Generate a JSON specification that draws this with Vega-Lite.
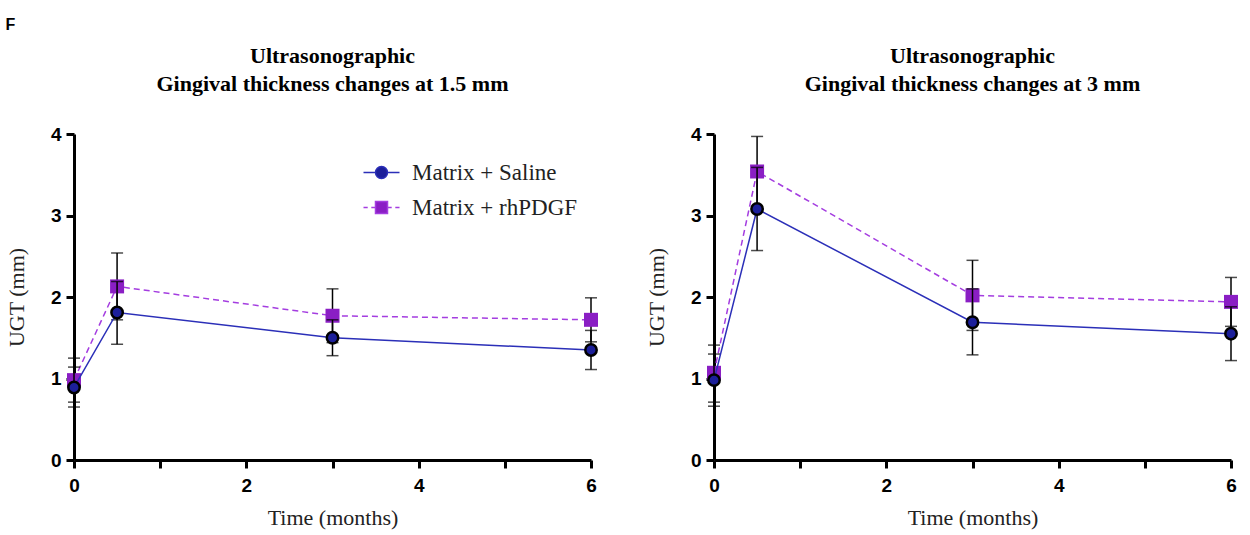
{
  "$schema": "https://vega.github.io/schema/vega-lite/v6.json",
  "padding": {"left": 5, "top": 17, "right": 5, "bottom": 2},
  "background": "white",
  "title": {"text": "F", "anchor": "start", "font": "Liberation Sans", "fontSize": 16, "fontWeight": "bold", "color": "black", "offset": 12},
  "datasets": {
    "p15": [
      {"t": 0, "group": "Matrix + Saline", "ugt": 0.89, "lo": 0.65, "hi": 1.14},
      {"t": 0.5, "group": "Matrix + Saline", "ugt": 1.81, "lo": 1.42, "hi": 2.19},
      {"t": 3, "group": "Matrix + Saline", "ugt": 1.50, "lo": 1.28, "hi": 1.72},
      {"t": 6, "group": "Matrix + Saline", "ugt": 1.35, "lo": 1.11, "hi": 1.59},
      {"t": 0, "group": "Matrix + rhPDGF", "ugt": 0.98, "lo": 0.71, "hi": 1.25},
      {"t": 0.5, "group": "Matrix + rhPDGF", "ugt": 2.13, "lo": 1.72, "hi": 2.54},
      {"t": 3, "group": "Matrix + rhPDGF", "ugt": 1.77, "lo": 1.44, "hi": 2.10},
      {"t": 6, "group": "Matrix + rhPDGF", "ugt": 1.72, "lo": 1.45, "hi": 1.99}
    ],
    "p3": [
      {"t": 0, "group": "Matrix + Saline", "ugt": 0.98, "lo": 0.66, "hi": 1.30},
      {"t": 0.5, "group": "Matrix + Saline", "ugt": 3.08, "lo": 2.57, "hi": 3.59},
      {"t": 3, "group": "Matrix + Saline", "ugt": 1.69, "lo": 1.29, "hi": 2.10},
      {"t": 6, "group": "Matrix + Saline", "ugt": 1.55, "lo": 1.22, "hi": 1.88},
      {"t": 0, "group": "Matrix + rhPDGF", "ugt": 1.07, "lo": 0.71, "hi": 1.41},
      {"t": 0.5, "group": "Matrix + rhPDGF", "ugt": 3.54, "lo": 3.11, "hi": 3.97},
      {"t": 3, "group": "Matrix + rhPDGF", "ugt": 2.02, "lo": 1.59, "hi": 2.45},
      {"t": 6, "group": "Matrix + rhPDGF", "ugt": 1.94, "lo": 1.64, "hi": 2.24}
    ]
  },
  "spacing": 43,
  "hconcat": [
    {
      "width": 517, "height": 326,
      "data": {"name": "p15"},
      "title": {"text": ["Ultrasonographic", "Gingival thickness changes at 1.5 mm"]},
      "encoding": {
        "x": {"field": "t", "type": "quantitative", "scale": {"domain": [0, 6], "nice": false}, "axis": {"title": "Time (months)", "values": [0, 1, 2, 3, 4, 5, 6], "labelExpr": "datum.value % 2 === 0 ? datum.label : ''"}},
        "y": {"field": "ugt", "type": "quantitative", "scale": {"domain": [0, 4], "nice": false}, "axis": {"title": "UGT (mm)", "values": [0, 1, 2, 3, 4]}}
      },
      "layer": [
        {"transform": [{"filter": "datum.group === 'Matrix + rhPDGF'"}], "mark": {"type": "errorbar", "color": "black", "thickness": 1.5, "ticks": {"size": 12}}, "encoding": {"y": {"field": "lo", "type": "quantitative", "title": "UGT (mm)"}, "y2": {"field": "hi"}}},
        {"transform": [{"filter": "datum.group === 'Matrix + rhPDGF'"}], "mark": {"type": "line", "strokeWidth": 1.5, "strokeDash": [6, 4]}, "encoding": {"color": {"field": "group", "type": "nominal", "scale": {"domain": ["Matrix + Saline", "Matrix + rhPDGF"], "range": ["#2b2fb8", "#a43de0"]}, "legend": {"orient": "none", "legendX": 296, "legendY": 27, "title": null, "symbolSize": 144, "labelFont": "Liberation Serif", "labelFontSize": 23, "labelColor": "#222", "labelOffset": 19, "labelLimit": 300, "rowPadding": 11, "padding": 0, "encode": {"symbols": {"update": {"shape": {"signal": "datum.value === 'Matrix + Saline' ? 'M-3,0H-1M1,0H3M1,0A1,1 0 1,1 -1,0A1,1 0 1,1 1,0Z' : 'M-3,0H-2.3M-1.7,0H-1M1,0H1.7M2.3,0H3M-1,-1H1V1H-1Z'"}, "fill": {"signal": "datum.value === 'Matrix + Saline' ? '#1c1f9a' : '#8a1ec4'"}, "stroke": {"signal": "datum.value === 'Matrix + Saline' ? '#2b2fb8' : '#a43de0'"}, "strokeWidth": {"value": 1.5}, "strokeDash": {"value": []}, "opacity": {"value": 1}, "size": {"value": 144}}}}}}}},
        {"transform": [{"filter": "datum.group === 'Matrix + rhPDGF'"}], "mark": {"type": "point", "shape": "square", "filled": true, "size": 196, "color": "#8a1ec4", "opacity": 1}},
        {"transform": [{"filter": "datum.group === 'Matrix + Saline'"}], "mark": {"type": "errorbar", "color": "black", "thickness": 1.5, "ticks": {"size": 12}}, "encoding": {"y": {"field": "lo", "type": "quantitative", "title": "UGT (mm)"}, "y2": {"field": "hi"}}},
        {"transform": [{"filter": "datum.group === 'Matrix + Saline'"}], "mark": {"type": "line", "strokeWidth": 1.5}, "encoding": {"color": {"field": "group", "type": "nominal", "scale": {"domain": ["Matrix + Saline", "Matrix + rhPDGF"], "range": ["#2b2fb8", "#a43de0"]}}}},
        {"transform": [{"filter": "datum.group === 'Matrix + Saline'"}], "mark": {"type": "point", "shape": "circle", "filled": true, "size": 130, "fill": "#1c1f9a", "stroke": "black", "strokeWidth": 2.5, "opacity": 1}}
      ]
    },
    {
      "width": 517, "height": 326,
      "data": {"name": "p3"},
      "title": {"text": ["Ultrasonographic", "Gingival thickness changes at 3 mm"]},
      "encoding": {
        "x": {"field": "t", "type": "quantitative", "scale": {"domain": [0, 6], "nice": false}, "axis": {"title": "Time (months)", "values": [0, 1, 2, 3, 4, 5, 6], "labelExpr": "datum.value % 2 === 0 ? datum.label : ''"}},
        "y": {"field": "ugt", "type": "quantitative", "scale": {"domain": [0, 4], "nice": false}, "axis": {"title": "UGT (mm)", "values": [0, 1, 2, 3, 4]}}
      },
      "layer": [
        {"transform": [{"filter": "datum.group === 'Matrix + rhPDGF'"}], "mark": {"type": "errorbar", "color": "black", "thickness": 1.5, "ticks": {"size": 12}}, "encoding": {"y": {"field": "lo", "type": "quantitative", "title": "UGT (mm)"}, "y2": {"field": "hi"}}},
        {"transform": [{"filter": "datum.group === 'Matrix + rhPDGF'"}], "mark": {"type": "line", "strokeWidth": 1.5, "strokeDash": [6, 4]}, "encoding": {"color": {"field": "group", "type": "nominal", "scale": {"domain": ["Matrix + Saline", "Matrix + rhPDGF"], "range": ["#2b2fb8", "#a43de0"]}, "legend": {"orient": "none", "legendX": 296, "legendY": 27, "title": null, "symbolSize": 144, "labelFont": "Liberation Serif", "labelFontSize": 23, "labelColor": "#222", "labelOffset": 19, "labelLimit": 300, "rowPadding": 11, "padding": 0, "encode": {"symbols": {"update": {"shape": {"signal": "datum.value === 'Matrix + Saline' ? 'M-3,0H-1M1,0H3M1,0A1,1 0 1,1 -1,0A1,1 0 1,1 1,0Z' : 'M-3,0H-2.3M-1.7,0H-1M1,0H1.7M2.3,0H3M-1,-1H1V1H-1Z'"}, "fill": {"signal": "datum.value === 'Matrix + Saline' ? '#1c1f9a' : '#8a1ec4'"}, "stroke": {"signal": "datum.value === 'Matrix + Saline' ? '#2b2fb8' : '#a43de0'"}, "strokeWidth": {"value": 1.5}, "strokeDash": {"value": []}, "opacity": {"value": 1}, "size": {"value": 144}}}}}}}},
        {"transform": [{"filter": "datum.group === 'Matrix + rhPDGF'"}], "mark": {"type": "point", "shape": "square", "filled": true, "size": 196, "color": "#8a1ec4", "opacity": 1}},
        {"transform": [{"filter": "datum.group === 'Matrix + Saline'"}], "mark": {"type": "errorbar", "color": "black", "thickness": 1.5, "ticks": {"size": 12}}, "encoding": {"y": {"field": "lo", "type": "quantitative", "title": "UGT (mm)"}, "y2": {"field": "hi"}}},
        {"transform": [{"filter": "datum.group === 'Matrix + Saline'"}], "mark": {"type": "line", "strokeWidth": 1.5}, "encoding": {"color": {"field": "group", "type": "nominal", "scale": {"domain": ["Matrix + Saline", "Matrix + rhPDGF"], "range": ["#2b2fb8", "#a43de0"]}}}},
        {"transform": [{"filter": "datum.group === 'Matrix + Saline'"}], "mark": {"type": "point", "shape": "circle", "filled": true, "size": 130, "fill": "#1c1f9a", "stroke": "black", "strokeWidth": 2.5, "opacity": 1}}
      ]
    }
  ],
  "config": {
    "view": {"stroke": null},
    "axis": {"grid": false, "labelFlush": false, "domainColor": "black", "domainWidth": 3, "tickColor": "black", "tickWidth": 3, "tickSize": 8, "labelFont": "Liberation Sans Narrow, Liberation Sans", "labelFontSize": 19, "labelFontWeight": "bold", "labelColor": "black", "labelPadding": 5, "titleFont": "Liberation Serif", "titleFontSize": 22, "titleFontWeight": "normal", "titleColor": "#222"},
    "axisX": {"titlePadding": 12, "labelPadding": 8},
    "axisY": {"titlePadding": 22},
    "title": {"font": "Liberation Serif", "fontSize": 22, "fontWeight": "bold", "color": "black", "offset": 29, "lineHeight": 28, "anchor": "middle"}
  }
}
